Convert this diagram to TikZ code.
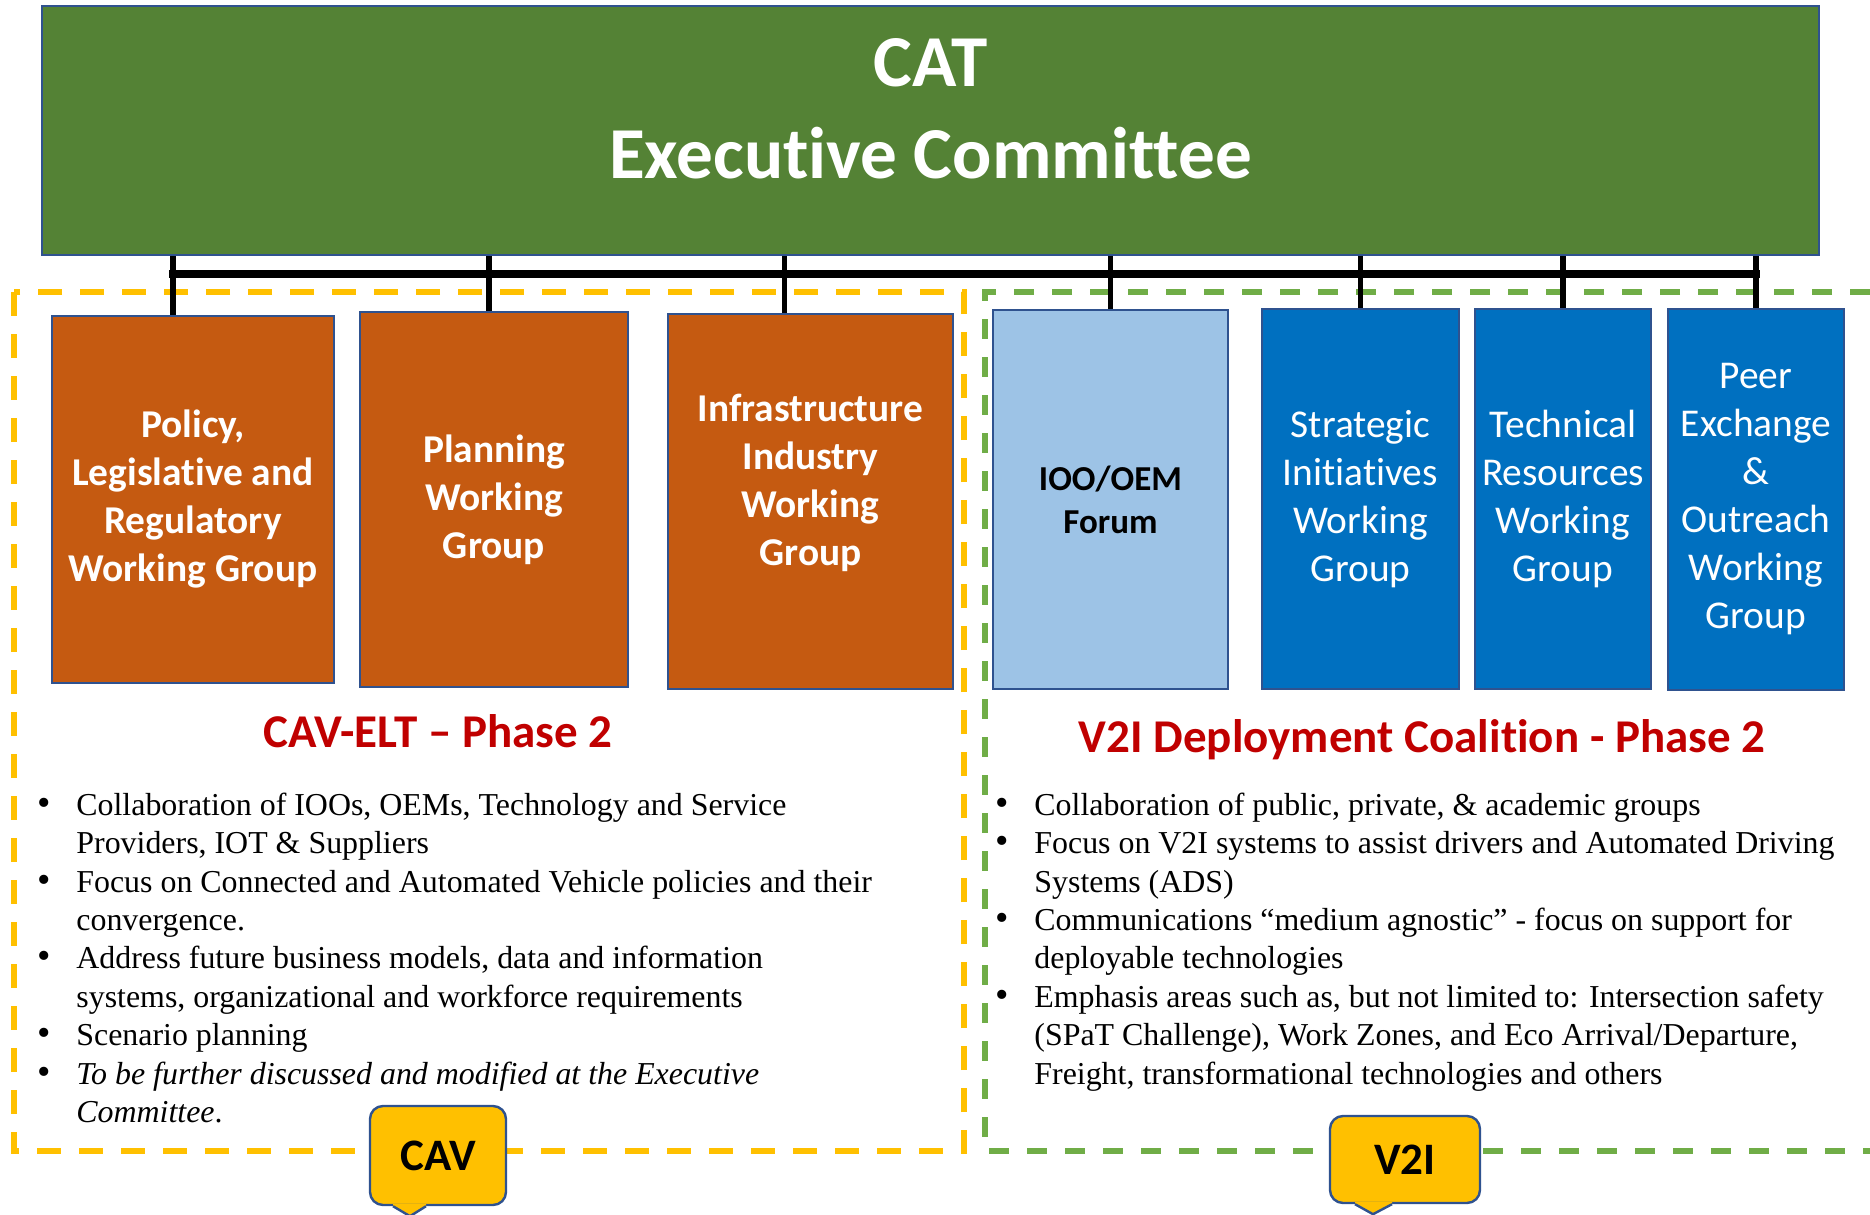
\documentclass[tikz,border=0pt]{standalone}
\usepackage{fontspec}
\newfontfamily\cali[Ligatures={NoCommon,NoContextual}]{Carlito}
\newfontfamily\tnr{Liberation Serif}
\usetikzlibrary{positioning,backgrounds}

\definecolor{execgreen}{HTML}{548235}
\definecolor{cavorange}{HTML}{C55A11}
\definecolor{forumblue}{HTML}{9DC3E6}
\definecolor{wgblue}{HTML}{0070C0}
\definecolor{edgeblue}{HTML}{2F528F}
\definecolor{headred}{HTML}{C00000}
\definecolor{cavgold}{HTML}{FFC000}
\definecolor{v2igreen}{HTML}{70AD47}

\newcommand\bdot{\scalebox{1.2}{\textbullet}}

\begin{document}
\begin{tikzpicture}[
    x=0.5pt,y=-0.5pt,
    exec/.style={
        draw=edgeblue, line width=1.2pt,
        fill=execgreen,
        inner sep=0pt
    },
    cavwg/.style={
        draw=edgeblue, line width=1.2pt,
        fill=cavorange,
        inner sep=0pt,
        align=center,
        text=white,
        font=\cali\bfseries\fontsize{19.7}{24}\selectfont
    },
    forum/.style={
        draw=edgeblue, line width=1.2pt,
        fill=forumblue,
        inner sep=0pt,
        align=center,
        text=black,
        font=\cali\bfseries\fontsize{17.5}{21.5}\selectfont
    },
    v2iwg/.style={
        draw=edgeblue, line width=1.2pt,
        fill=wgblue,
        inner sep=0pt,
        align=center,
        text=white,
        font=\cali\fontsize{19.7}{24}\selectfont
    },
    headline/.style={
        anchor=base,
        text=headred,
        font=\cali\bfseries\fontsize{23.5}{28}\selectfont
    },
    bullets/.style={
        anchor=north west,
        inner sep=0pt,
        font=\tnr\fontsize{15.95}{19.2}\selectfont
    },
    tag/.style={
        draw=edgeblue, line width=1.2pt,
        fill=cavgold,
        rounded corners=6.5pt,
        inner sep=0pt,
        font=\cali\bfseries\fontsize{22.5}{27}\selectfont
    },
    tagedge/.style={draw=edgeblue, line width=1.2pt, line join=miter},
    cavframe/.style={draw=cavgold, line width=2.8pt, dash pattern=on 12pt off 9pt},
    v2iframe/.style={draw=v2igreen, line width=2.8pt, dash pattern=on 10pt off 9pt},
    stub/.style={line width=2.8pt},
    bar/.style={line width=3.6pt, line cap=rect}
]
\useasboundingbox (0,0) rectangle (1870,1215);

% ====== top ======
\node[exec, minimum width=888.5pt, minimum height=124.5pt] (exec) at (930.5,130.5) {};
\node[align=center, text=white, font=\cali\bfseries\fontsize{36.6}{46}\selectfont] (exectext) at (930.5,109) {CAT\\Executive Committee};
\coordinate (bar) at (0,274);

% ====== working groups ======
\node[cavwg, minimum width=141pt, minimum height=183.5pt] (pol) at (193,499.5) {Policy,\\Legislative and\\Regulatory\\Working Group};
\node[cavwg, minimum width=134pt, minimum height=187.5pt] (plan) at (494,499.5) {Planning\\Working\\Group};
\node[cavwg, minimum width=142.5pt, minimum height=187.5pt] (infra) at (810.5,501.5) {\raisebox{9pt}[\height][\depth]{\begin{tabular}{@{}c@{}}Infrastructure\\Industry\\Working\\Group\end{tabular}}};

\node[forum, minimum width=117.5pt, minimum height=189.5pt] (forum) at (1110.5,499.5) {IOO/OEM\\Forum};
\node[v2iwg, minimum width=98.5pt, minimum height=190pt] (sig) at (1360.5,499) {Strategic\\Initiatives\\Working\\Group};
\node[v2iwg, minimum width=88pt, minimum height=190pt] (trg) at (1563,499) {Technical\\Resources\\Working\\Group};
\node[v2iwg, minimum width=88pt, minimum height=190.5pt] (pex) at (1756,499.5) {Peer\\Exchange\\\&\\Outreach\\Working\\Group};

% ====== dashed frames and exec -> groups ======
\begin{pgfonlayer}{background}
\draw[cavframe] (14,292) rectangle (964,1151);
\draw[v2iframe] (1870,292) -- (985,292) -- (985,1151) -- (1870,1151);

\draw[bar] ([xshift=-10pt]pol.north |- bar) -- (pex.north |- bar);
\draw[stub] ([xshift=-10pt]pol.north) -- ([xshift=-10pt]pol.north |- exec.south);
\draw[stub] ([xshift=-2.5pt]plan.north) -- ([xshift=-2.5pt]plan.north |- exec.south);
\draw[stub] ([xshift=-13pt]infra.north) -- ([xshift=-13pt]infra.north |- exec.south);
\draw[stub] (forum) -- (forum.north |- exec.south);
\draw[stub] (sig) -- (sig.north |- exec.south);
\draw[stub] (trg) -- (trg.north |- exec.south);
\draw[stub] (pex) -- (pex.north |- exec.south);
\end{pgfonlayer}

% ====== headings ======
\node[headline] (cavhead) at (438,747) {CAV-ELT – Phase 2};
\node[headline] (v2ihead) at (1422,752) {V2I Deployment Coalition - Phase 2};

% ====== bullet lists ======
\node[bullets] (cavlist) at (37,788) {%
\begin{tabular}{@{}p{19.5pt}@{}l@{}}
\bdot & Collaboration of IOOs, OEMs, Technology and Service\\
 & Providers, IOT \& Suppliers\\
\bdot & Focus on Connected and Automated Vehicle policies and their\\
 & convergence.\\
\bdot & Address future business models, data and information\\
 & systems, organizational and workforce requirements\\
\bdot & Scenario planning\\
\bdot & \textit{To be further discussed and modified at the Executive}\\
 & \textit{Committee}.
\end{tabular}};

\node[bullets] (v2ilist) at (995,788) {%
\begin{tabular}{@{}p{19.5pt}@{}l@{}}
\bdot & Collaboration of public, private, \& academic groups\\
\bdot & Focus on V2I systems to assist drivers and Automated Driving\\
 & Systems (ADS)\\
\bdot & Communications “medium agnostic” - focus on support for\\
 & deployable technologies\\
\bdot & Emphasis areas such as, but not limited to: Intersection safety\\
 & (SPaT Challenge), Work Zones, and Eco Arrival/Departure,\\
 & Freight, transformational technologies and others
\end{tabular}};

% ====== tags ======
\node[tag, minimum width=68pt, minimum height=49.5pt] (cav) at (438,1155.5) {CAV};
\fill[cavgold] ([xshift=-22.5pt,yshift=1pt]cav.south) -- ([xshift=-22.5pt]cav.south) -- ([xshift=-14pt,yshift=-5pt]cav.south) -- ([xshift=-6pt]cav.south) -- ([xshift=-6pt,yshift=1pt]cav.south) -- cycle;
\draw[tagedge] ([xshift=-22.5pt]cav.south) -- ([xshift=-14pt,yshift=-5pt]cav.south) -- ([xshift=-6pt]cav.south);

\node[tag, minimum width=75pt, minimum height=43.5pt] (v2i) at (1405,1159.5) {V2I};
\fill[cavgold] ([xshift=-25pt,yshift=1pt]v2i.south) -- ([xshift=-25pt]v2i.south) -- ([xshift=-16pt,yshift=-5pt]v2i.south) -- ([xshift=-6.5pt]v2i.south) -- ([xshift=-6.5pt,yshift=1pt]v2i.south) -- cycle;
\draw[tagedge] ([xshift=-25pt]v2i.south) -- ([xshift=-16pt,yshift=-5pt]v2i.south) -- ([xshift=-6.5pt]v2i.south);

\end{tikzpicture}
\end{document}
